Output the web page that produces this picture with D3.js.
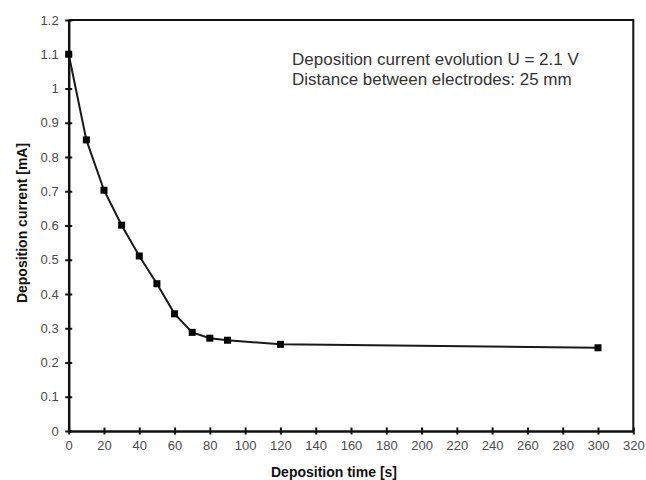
<!DOCTYPE html>
<html>
<head>
<meta charset="utf-8">
<script src="https://cdn.jsdelivr.net/npm/d3@7"></script>
<style>
    body { margin: 0; background: #fff; }
    svg { display: block; font-family: "Liberation Sans", Arial, sans-serif; }
</style>
</head>
<body>
<div id="chart"></div>
<script>
const width = 646;
const height = 480;

const times = [0, 10, 20, 30, 40, 50, 60, 70, 80, 90, 120, 300];
const currents = [1.1, 0.85, 0.703, 0.601, 0.511, 0.43, 0.342, 0.288, 0.271, 0.265, 0.253, 0.243];
const xTicks = d3.range(0, 321, 20);
const yTicks = [0, 0.1, 0.2, 0.3, 0.4, 0.5, 0.6, 0.7, 0.8, 0.9, 1, 1.1, 1.2];
const notes = ['Deposition current evolution U = 2.1 V', 'Distance between electrodes: 25 mm'];

const data = times.map((t, i) => ({ t: t, c: currents[i] }));

const plotLeft = 68.7, plotRight = 633.3, plotTop = 20, plotBottom = 431;

const svg = d3.select('#chart')
    .append('svg')
    .attr('width', width)
    .attr('height', height);

const xScale = d3.scaleLinear().domain([0, 320]).range([plotLeft, plotRight]);
const yScale = d3.scaleLinear().domain([0, 1.2]).range([plotBottom, plotTop]);

// frame (top and right)
svg.append('path')
    .attr('d', `M${plotLeft},${plotTop}H${plotRight}V${plotBottom}`)
    .attr('fill', 'none')
    .attr('stroke', '#111')
    .attr('stroke-width', 2);

const xAxis = d3.axisBottom(xScale).tickValues(xTicks).tickFormat(d3.format('d'))
    .tickSizeInner(3.5).tickSizeOuter(0).tickPadding(8);
const yAxis = d3.axisLeft(yScale).tickValues(yTicks).tickFormat(d => String(+d.toFixed(1)))
    .tickSizeInner(3.5).tickSizeOuter(0).tickPadding(8);

const gx = svg.append('g')
    .attr('transform', `translate(0, ${plotBottom})`)
    .call(xAxis);
const gy = svg.append('g')
    .attr('transform', `translate(${plotLeft}, 0)`)
    .call(yAxis);

[gx, gy].forEach(g => {
    g.select('.domain').attr('stroke', '#111').attr('stroke-width', 2.5);
    g.selectAll('.tick line').attr('stroke', '#111').attr('stroke-width', 2);
    g.selectAll('.tick text').attr('fill', '#4a4a4a').style('font-size', '13px');
});
// ticks crossing the axes
gx.selectAll('.tick line').attr('y1', -3.5).attr('y2', 3.5);
gy.selectAll('.tick line').attr('x1', -3.5).attr('x2', 3.5);
gx.selectAll('.tick text').attr('dy', '0.71em').attr('y', 10);
gy.selectAll('.tick text').attr('x', -10);

const line = d3.line()
    .x(d => xScale(d.t))
    .y(d => yScale(d.c));

svg.append('path')
    .datum(data)
    .attr('d', line)
    .attr('fill', 'none')
    .attr('stroke', '#1a1a1a')
    .attr('stroke-width', 2);

svg.selectAll('.dot')
    .data(data)
    .enter()
    .append('rect')
    .attr('class', 'dot')
    .attr('x', d => xScale(d.t) - 3.5)
    .attr('y', d => yScale(d.c) - 3.5)
    .attr('width', 7)
    .attr('height', 7)
    .attr('fill', '#000');

svg.append('text')
    .attr('x', 334)
    .attr('y', 477)
    .attr('text-anchor', 'middle')
    .attr('font-weight', 'bold')
    .attr('font-size', '14px')
    .attr('fill', '#111')
    .text('Deposition time [s]');

svg.append('text')
    .attr('transform', 'translate(27, 223) rotate(-90)')
    .attr('text-anchor', 'middle')
    .attr('font-weight', 'bold')
    .attr('font-size', '14px')
    .attr('fill', '#111')
    .text('Deposition current [mA]');

svg.selectAll('.note')
    .data(notes)
    .enter()
    .append('text')
    .attr('class', 'note')
    .attr('x', 292)
    .attr('y', (d, i) => 65 + i * 20)
    .attr('font-size', '17px')
    .attr('fill', '#333')
    .text(d => d);
</script>
</body>
</html>
